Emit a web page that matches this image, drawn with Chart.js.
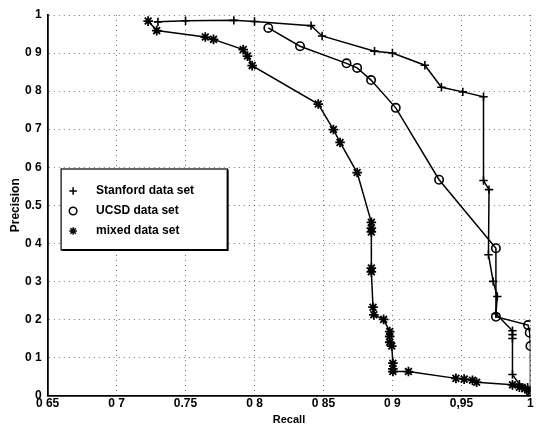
<!DOCTYPE html>
<html>
<head>
<meta charset="utf-8">
<script src="https://cdn.jsdelivr.net/npm/chart.js@4/dist/chart.umd.min.js"></script>
<style>
  html, body { margin: 0; padding: 0; background: #fff; }
  #wrap { width: 537px; height: 425px; overflow: hidden; }
</style>
</head>
<body>
<div id="wrap"><canvas id="c" width="537" height="425"></canvas></div>
<script>
// ---- data ----
const xTickValues = [0.65, 0.7, 0.75, 0.8, 0.85, 0.9, 0.95, 1];
const xTickLabels = ["0 65", "0 7", "0.75", "0 8", "0 85", "0 9", "0,95", "1"];
const yTickValues = [0, 0.1, 0.2, 0.3, 0.4, 0.5, 0.6, 0.7, 0.8, 0.9, 1];
const yTickLabels = ["0", "0 1", "0 2", "0 3", "0 4", "0.5", "0 6", "0 7", "0 8", "0 9", "1"];

const seriesNames = ["Stanford data set", "UCSD data set", "mixed data set"];

const stanfordRecall = [0.730, 0.750, 0.785, 0.800, 0.841, 0.849, 0.887, 0.900, 0.9235, 0.9355, 0.951, 0.966, 0.966, 0.970, 0.9696, 0.973, 0.976, 0.975, 0.987, 0.987, 0.987, 0.987, 0.992, 0.998, 1.000];
const stanfordPrecision = [0.982, 0.985, 0.986, 0.983, 0.972, 0.945, 0.905, 0.900, 0.868, 0.810, 0.798, 0.785, 0.565, 0.541, 0.370, 0.300, 0.260, 0.215, 0.170, 0.160, 0.150, 0.055, 0.030, 0.022, 0.010];

const ucsdRecall = [0.810, 0.833, 0.8667, 0.8744, 0.8845, 0.9024, 0.9338, 0.975, 0.975, 0.9983, 0.9995, 1.000, 1.000];
const ucsdPrecision = [0.966, 0.918, 0.873, 0.861, 0.829, 0.756, 0.567, 0.387, 0.207, 0.185, 0.165, 0.130, 0.010];

const mixedRecall = [0.7229, 0.7291, 0.7643, 0.7703, 0.7918, 0.7949, 0.7983, 0.8462, 0.8572, 0.8620, 0.8744, 0.8847, 0.8847, 0.8847, 0.8847, 0.8847, 0.8859, 0.8865, 0.8936, 0.8980, 0.8980, 0.8980, 0.8995, 0.9003, 0.9003, 0.9003, 0.9116, 0.946, 0.952, 0.958, 0.961, 0.987, 0.992, 0.996, 1.000];
const mixedPrecision = [0.984, 0.959, 0.942, 0.936, 0.909, 0.892, 0.867, 0.766, 0.699, 0.665, 0.586, 0.455, 0.440, 0.430, 0.335, 0.325, 0.232, 0.212, 0.200, 0.168, 0.155, 0.140, 0.130, 0.085, 0.070, 0.063, 0.063, 0.045, 0.043, 0.040, 0.035, 0.028, 0.022, 0.018, 0.010];

const toPoints = (xs, ys) => xs.map((x, i) => ({ x: x, y: ys[i] }));

const FONT = "'Liberation Sans', Arial, sans-serif";

function drawMarker(ctx, style, x, y, r) {
  ctx.beginPath();
  if (style === 'cross' || style === 'star') {
    ctx.moveTo(x - r, y); ctx.lineTo(x + r, y);
    ctx.moveTo(x, y - r); ctx.lineTo(x, y + r);
  }
  if (style === 'star') {
    const d = r * 0.72;
    ctx.moveTo(x - d, y - d); ctx.lineTo(x + d, y + d);
    ctx.moveTo(x - d, y + d); ctx.lineTo(x + d, y - d);
  }
  if (style === 'circle') {
    ctx.arc(x, y, r, 0, Math.PI * 2);
  }
  ctx.stroke();
}

const legendPlugin = {
  id: 'insideLegend',
  afterDatasetsDraw(chart) {
    const ctx = chart.ctx;
    const a = chart.chartArea;
    const bx = a.left + 13.5, by = a.top + 154, bw = 166.5, bh = 81;
    ctx.save();
    ctx.fillStyle = '#fff';
    ctx.fillRect(bx, by, bw, bh);
    ctx.strokeStyle = '#000';
    ctx.lineWidth = 1.2;
    ctx.strokeRect(bx, by, bw, bh);
    ctx.lineWidth = 2;
    ctx.beginPath();
    ctx.moveTo(bx + bw, by + 1); ctx.lineTo(bx + bw, by + bh); ctx.lineTo(bx + 1, by + bh);
    ctx.stroke();
    ctx.font = 'bold 12px ' + FONT;
    ctx.fillStyle = '#000';
    ctx.textBaseline = 'middle';
    ctx.textAlign = 'left';
    chart.data.datasets.forEach((ds, i) => {
      const ry = by + 22 + i * 20;
      ctx.lineWidth = 1.5;
      drawMarker(ctx, ds.pointStyle, bx + 12, ry, 3.8);
      ctx.fillText(ds.label, bx + 35, ry);
    });
    ctx.restore();
  }
};

const common = {
  showLine: true,
  borderColor: '#000',
  borderWidth: 1.5,
  pointBorderColor: '#000',
  pointBorderWidth: 1.6,
  pointRadius: 4.2,
  tension: 0,
  fill: false
};

new Chart(document.getElementById('c'), {
  type: 'scatter',
  data: {
    datasets: [
      Object.assign({}, common, { label: seriesNames[0], data: toPoints(stanfordRecall, stanfordPrecision), pointStyle: 'cross', pointBackgroundColor: 'rgba(0,0,0,0)' }),
      Object.assign({}, common, { label: seriesNames[1], data: toPoints(ucsdRecall, ucsdPrecision), pointStyle: 'circle', pointBackgroundColor: 'rgba(0,0,0,0)' }),
      Object.assign({}, common, { label: seriesNames[2], data: toPoints(mixedRecall, mixedPrecision), pointStyle: 'star', pointBackgroundColor: 'rgba(0,0,0,0)', pointRadius: 4.8, pointBorderWidth: 1.8 })
    ]
  },
  options: {
    responsive: false,
    animation: false,
    devicePixelRatio: 1,
    layout: { padding: { left: 0, right: 1.4, top: 15, bottom: 0 } },
    plugins: {
      legend: { display: false },
      tooltip: { enabled: false }
    },
    scales: {
      x: {
        type: 'linear',
        min: 0.65, max: 1,
        afterBuildTicks: (s) => { s.ticks = xTickValues.map(v => ({ value: v })); },
        afterFit: (s) => { s.height = 29.5; s.paddingLeft = 0; s.paddingRight = 0; },
        ticks: {
          color: '#000',
          font: { family: FONT, size: 12, weight: 'bold' },
          padding: 1,
          maxRotation: 0,
          autoSkip: false,
          callback: (v, i) => xTickLabels[i]
        },
        grid: { color: 'rgba(0,0,0,0.55)', lineWidth: 1, drawTicks: false },
        border: { display: true, color: '#000', width: 1.8, dash: [1, 4] },
        title: {
          display: true, text: 'Recall', color: '#000',
          font: { family: FONT, size: 11, weight: 'bold' },
          padding: { top: 0, bottom: -2 }
        }
      },
      y: {
        type: 'linear',
        min: 0, max: 1,
        afterBuildTicks: (s) => { s.ticks = yTickValues.map(v => ({ value: v })); },
        afterFit: (s) => { s.width = 47.6; s.paddingTop = 0; s.paddingBottom = 0; },
        ticks: {
          color: '#000',
          font: { family: FONT, size: 12, weight: 'bold' },
          padding: 6,
          autoSkip: false,
          callback: (v, i) => yTickLabels[i]
        },
        grid: { color: 'rgba(0,0,0,0.55)', lineWidth: 1, drawTicks: false },
        border: { display: true, color: '#000', width: 1.8, dash: [1, 4] },
        title: {
          display: true, text: 'Precision', color: '#000',
          font: { family: FONT, size: 12, weight: 'bold' },
          padding: { top: 8, bottom: 0 }
        }
      }
    }
  },
  plugins: [legendPlugin]
});
</script>
</body>
</html>
